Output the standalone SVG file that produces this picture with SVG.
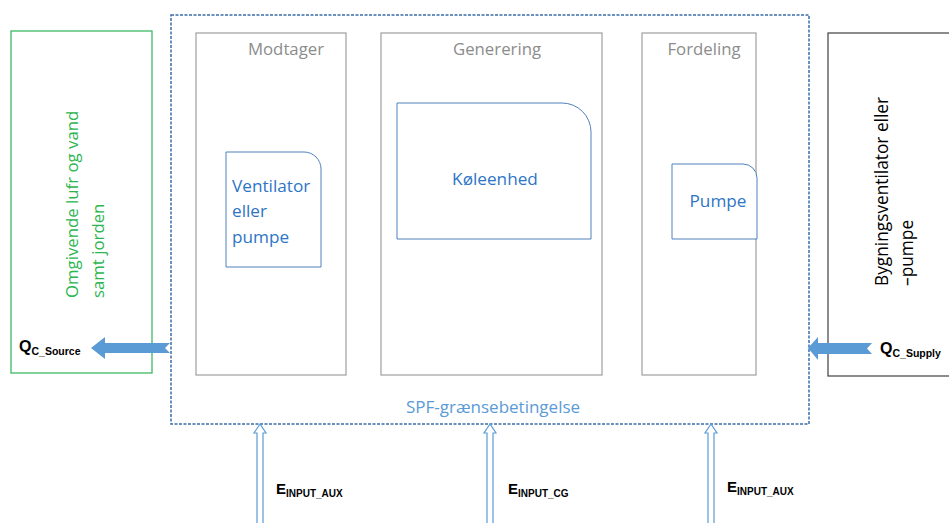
<svg xmlns="http://www.w3.org/2000/svg" width="949" height="523" viewBox="0 0 949 523">
<style>
text{font-family:"Open Sans","Liberation Sans",sans-serif}
.stage{fill:#fff;stroke:#a6a6a6;stroke-width:1.3}
.hdr{fill:#8c8c8c;font-size:16.8px;text-anchor:middle}
.unit{fill:#fff;stroke:#4f81bd;stroke-width:1}
.ut{fill:#2e75c6;font-size:17.2px}
.lbl{font-family:"Liberation Sans",sans-serif;font-weight:bold;fill:#000}
.fat{fill:#5b9bd5}
.hol{fill:#fff;stroke:#5b9bd5;stroke-width:1.2}
</style>
<rect width="949" height="523" fill="#fff"/>
<g id="source">
<rect x="11" y="31" width="141" height="342" fill="#fff" stroke="#3cb964" stroke-width="1.3"/>
<text transform="translate(78,298) rotate(-90)" fill="#2cb550" font-size="16.8">Omgivende lufr og vand</text>
<text transform="translate(104,298) rotate(-90)" fill="#2cb550" font-size="16.8">samt jorden</text>
<text x="19" y="352" class="lbl" font-size="16">Q<tspan font-size="10.5" dy="3">C_Source</tspan></text>
</g>
<g id="supply">
<rect x="828" y="33" width="130" height="343" fill="#fff" stroke="#404040" stroke-width="1.2"/>
<text transform="translate(888,286) rotate(-90)" fill="#000" font-size="17.3">Bygningsventilator eller</text>
<text transform="translate(913,286) rotate(-90)" fill="#000" font-size="17.3">–pumpe</text>
<text x="880" y="354" class="lbl" font-size="16">Q<tspan font-size="10.5" dy="3">C_Supply</tspan></text>
</g>
<g id="boundary">
<rect x="171" y="15" width="638" height="409" fill="none" stroke="#3a6ea5" stroke-width="1.5" stroke-dasharray="3,1.5"/>
<text x="493" y="413" fill="#5b9bd5" font-size="17" text-anchor="middle">SPF-grænsebetingelse</text>
</g>
<g id="modtager">
<rect class="stage" x="196" y="33" width="150" height="342"/>
<text class="hdr" x="286" y="55">Modtager</text>
</g>
<g id="generering">
<rect class="stage" x="381" y="33" width="221" height="342"/>
<text class="hdr" x="497" y="55">Generering</text>
</g>
<g id="fordeling">
<rect class="stage" x="642" y="33" width="114" height="342"/>
<text class="hdr" x="704" y="55">Fordeling</text>
</g>
<g id="ventilator">
<path class="unit" d="M226,152 H304 A17,17 0 0 1 321,169 V267 H226 Z"/>
<text class="ut" x="232" y="192">Ventilator</text>
<text class="ut" x="232" y="217">eller</text>
<text class="ut" x="232" y="243">pumpe</text>
</g>
<g id="koeleenhed">
<path class="unit" d="M397,103 H562 A29,29 0 0 1 591,132 V239 H397 Z"/>
<text class="ut" x="495" y="185" text-anchor="middle">Køleenhed</text>
</g>
<g id="pumpe">
<path class="unit" d="M672,164 H743 A14,14 0 0 1 757,178 V239 H672 Z"/>
<text class="ut" x="718" y="207" text-anchor="middle">Pumpe</text>
</g>
<g id="connectors">
<path class="fat" d="M170,343 H105 V337 L91,348 L105,359 V353 H170 L165,348 Z"/>
<path class="fat" d="M872,343 H818 V337 L808,348 L818,360 V354 H872 L867,348.5 Z"/>
<path class="hol" d="M257,526 V433 H254 L260,424 L266,433 H263 V526"/>
<path class="hol" d="M487,526 V433 H484 L490,424 L496,433 H493 V526"/>
<path class="hol" d="M708,526 V433 H705 L711,424 L717,433 H714 V526"/>
<text x="276" y="494" class="lbl" font-size="15">E<tspan font-size="10" dy="3">INPUT_AUX</tspan></text>
<text x="508" y="494" class="lbl" font-size="15">E<tspan font-size="10" dy="3">INPUT_CG</tspan></text>
<text x="727" y="492" class="lbl" font-size="15">E<tspan font-size="10" dy="3">INPUT_AUX</tspan></text>
</g>
</svg>
